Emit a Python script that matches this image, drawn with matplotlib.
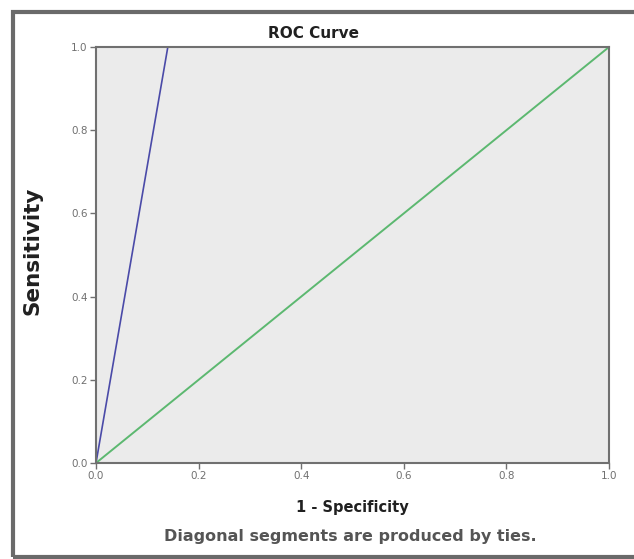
import matplotlib.pyplot as plt
import matplotlib.patches as patches

# ROC curve data
fpr = [0.0, 0.14, 1.0]
tpr = [0.0, 1.0, 1.0]
ref_x = [0.0, 1.0]
ref_y = [0.0, 1.0]
ticks = [0.0, 0.2, 0.4, 0.6, 0.8, 1.0]
tick_labels = ['0.0', '0.2', '0.4', '0.6', '0.8', '1.0']

plt.rcParams['font.family'] = ['DejaVu Sans']

fig = plt.figure(figsize=(6.34, 5.59), dpi=100)
fig.patch.set_facecolor('white')

# outer frame
frame = patches.Rectangle((13 / 634, 2 / 559), 1.2, 1 - 12 / 559 - 2 / 559,
                          transform=fig.transFigure, fill=False,
                          edgecolor='#6a6a6a', linewidth=3)
fig.add_artist(frame)

ax = fig.add_axes([96 / 634, 96 / 559, 513 / 634, 416 / 559])
ax.set_facecolor('#ebebeb')

ax.plot(fpr, tpr, color='#4a4aa8', linewidth=1.2)
ax.plot(ref_x, ref_y, color='#5cb870', linewidth=1.4)

ax.set_xlim(0, 1)
ax.set_ylim(0, 1)
ax.set_xticks(ticks)
ax.set_xticklabels(tick_labels)
ax.set_yticks(ticks)
ax.set_yticklabels(tick_labels)
ax.tick_params(direction='out', length=4, width=1, color='#707070',
               labelsize=7.5, labelcolor='#707070', pad=2)
for s in ax.spines.values():
    s.set_color('#707070')
    s.set_linewidth(1.5)

ax.set_xlabel('1 - Specificity', fontsize=10.5, fontweight='bold', color='#202020')
ax.xaxis.set_label_coords(0.5, -0.089)
ax.set_ylabel('Sensitivity', fontsize=15.5, fontweight='bold', color='#202020')
ax.yaxis.set_label_coords(-0.105, 0.51)

fig.text(314 / 634, 1 - 33 / 559, 'ROC Curve', fontsize=11, fontweight='bold',
         color='#202020', ha='center', va='center')
fig.text(350 / 634, 1 - 537 / 559, 'Diagonal segments are produced by ties.',
         fontsize=11.5, fontweight='bold', color='#555555', ha='center', va='center')

fig.savefig('out.png', dpi=100)
